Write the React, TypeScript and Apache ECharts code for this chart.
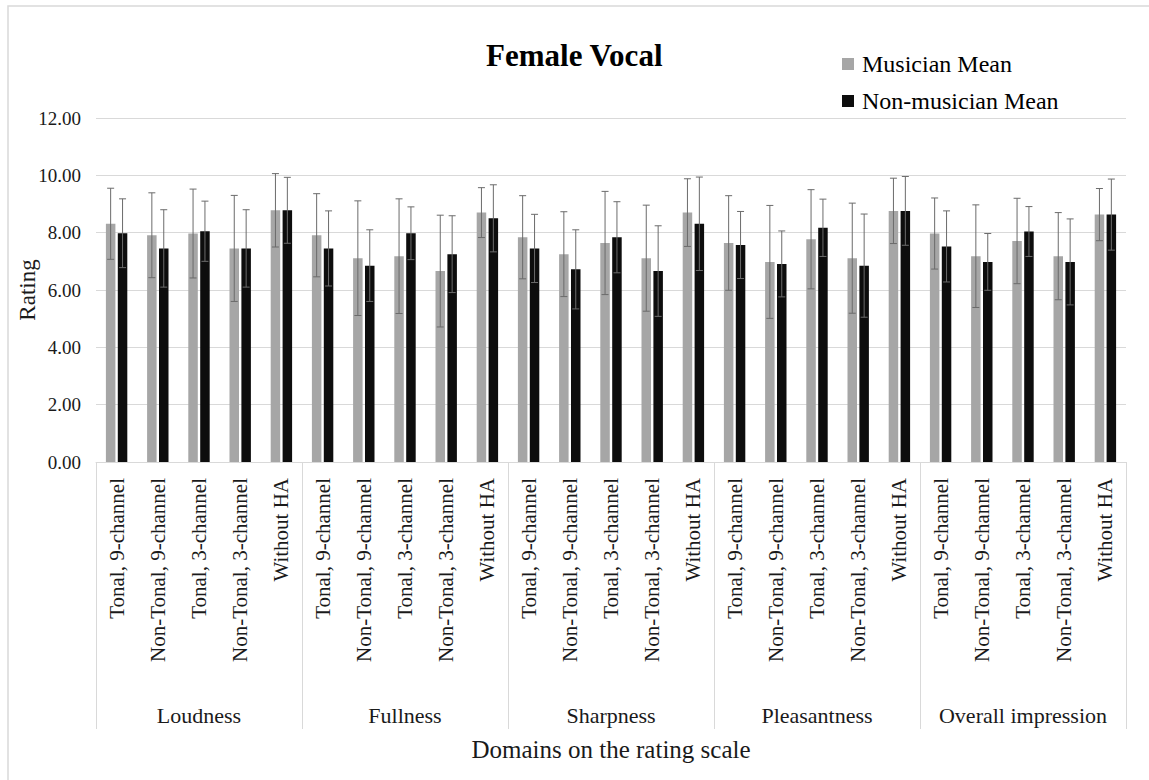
import React, { useEffect, useRef } from "react";
import * as echarts from "echarts";

// Listening conditions within each rating domain
const conditions = [
  "Tonal, 9-channel",
  "Non-Tonal, 9-channel",
  "Tonal, 3-channel",
  "Non-Tonal, 3-channel",
  "Without HA",
];
const domains = ["Loudness", "Fullness", "Sharpness", "Pleasantness", "Overall impression"];

// Mean ratings, one row per domain, in the order of `conditions`
const musicianMean = [
  [8.31, 7.91, 7.97, 7.45, 8.78],
  [7.91, 7.11, 7.18, 6.66, 8.7],
  [7.84, 7.25, 7.64, 7.11, 8.7],
  [7.64, 6.98, 7.77, 7.11, 8.76],
  [7.97, 7.18, 7.71, 7.18, 8.63],
];
const musicianSD = [
  [1.24, 1.48, 1.55, 1.85, 1.28],
  [1.45, 2.0, 2.0, 1.95, 0.87],
  [1.45, 1.48, 1.8, 1.85, 1.18],
  [1.65, 1.97, 1.73, 1.92, 1.14],
  [1.24, 1.79, 1.49, 1.52, 0.91],
];
const nonMusicianMean = [
  [7.98, 7.45, 8.05, 7.45, 8.78],
  [7.45, 6.85, 7.98, 7.25, 8.5],
  [7.45, 6.72, 7.84, 6.66, 8.31],
  [7.57, 6.91, 8.17, 6.85, 8.76],
  [7.52, 6.98, 8.04, 6.98, 8.63],
];
const nonMusicianSD = [
  [1.2, 1.35, 1.05, 1.35, 1.15],
  [1.31, 1.25, 0.92, 1.34, 1.17],
  [1.19, 1.38, 1.24, 1.58, 1.63],
  [1.17, 1.15, 1.0, 1.8, 1.2],
  [1.24, 0.99, 0.87, 1.5, 1.24],
];

const yTicks = [0, 2, 4, 6, 8, 10, 12];

const FONT = "Liberation Serif";
const GRID_COLOR = "#d9d9d9";
const TEXT_COLOR = "#1a1a1a";
const BAR_W = 9.5;
const BAR_GAP = 2.4;

export default function App() {
  const ref = useRef<HTMLDivElement>(null);

  useEffect(() => {
    if (!ref.current) return;
    const chart = echarts.init(ref.current, null, { renderer: "svg" });

    const categories: string[] = [];
    domains.forEach(() => conditions.forEach((c) => categories.push(c)));
    const flat = (rows: number[][]) => rows.flat();
    const mMean = flat(musicianMean);
    const mSD = flat(musicianSD);
    const nMean = flat(nonMusicianMean);
    const nSD = flat(nonMusicianSD);

    // Whiskers of ±1 SD, shifted onto the bar of each group
    const errorSeries = (name: string, means: number[], sds: number[], offset: number) => ({
      type: "custom",
      name,
      xAxisIndex: 0,
      yAxisIndex: 0,
      z: 5,
      silent: true,
      data: means.map((m, i) => [i, m, sds[i]]),
      renderItem: (params: any, api: any) => {
        const i = api.value(0);
        const m = api.value(1);
        const sd = api.value(2);
        const top = api.coord([i, m + sd]);
        const bot = api.coord([i, m - sd]);
        const cx = top[0] + offset;
        const cap = 3.5;
        const style = { stroke: "#6b6b6b", lineWidth: 1 };
        return {
          type: "group",
          children: [
            { type: "line", shape: { x1: cx, y1: top[1], x2: cx, y2: bot[1] }, style },
            { type: "line", shape: { x1: cx - cap, y1: top[1], x2: cx + cap, y2: top[1] }, style },
            { type: "line", shape: { x1: cx - cap, y1: bot[1], x2: cx + cap, y2: bot[1] }, style },
          ],
        };
      },
    });

    const half = (BAR_W + BAR_GAP) / 2;

    chart.setOption({
      animation: false,
      backgroundColor: "#fff",
      textStyle: { fontFamily: FONT },
      title: {
        text: "Female Vocal",
        left: 481,
        top: 35,
        textStyle: { fontFamily: FONT, fontWeight: "bold", fontSize: 31, color: "#000" },
      },
      legend: {
        orient: "vertical",
        left: 837,
        top: 47,
        itemWidth: 12,
        itemHeight: 12,
        itemGap: 13,
        icon: "rect",
        data: ["Musician Mean", "Non-musician Mean"],
        textStyle: {
          fontFamily: FONT,
          fontSize: 24,
          fontWeight: "normal",
          color: "#000",
          padding: [0, 0, 0, 3],
        },
      },
      graphic: [
        {
          type: "rect",
          shape: { x: 8, y: 6, width: 1300, height: 900 },
          style: { fill: "none", stroke: GRID_COLOR, lineWidth: 1.5 },
          silent: true,
        },
      ],
      grid: { left: 96, right: 23, top: 118, bottom: 318, containLabel: false },
      xAxis: [
        {
          type: "category",
          data: categories,
          position: "bottom",
          axisLine: { show: true, lineStyle: { color: GRID_COLOR } },
          axisTick: { show: false },
          axisLabel: {
            interval: 0,
            rotate: 90,
            margin: 16,
            fontSize: 21,
            fontFamily: FONT,
            color: TEXT_COLOR,
          },
        },
        {
          type: "category",
          data: domains,
          position: "bottom",
          axisLine: { show: false },
          axisTick: { show: true, length: 267, interval: 0, lineStyle: { color: GRID_COLOR } },
          axisLabel: {
            interval: 0,
            margin: 242,
            fontSize: 22,
            fontFamily: FONT,
            color: TEXT_COLOR,
          },
          name: "Domains on the rating scale",
          nameLocation: "middle",
          nameGap: 275,
          nameTextStyle: { fontSize: 25, fontFamily: FONT, color: TEXT_COLOR },
        },
      ],
      yAxis: {
        type: "value",
        min: yTicks[0],
        max: yTicks[yTicks.length - 1],
        interval: yTicks[1] - yTicks[0],
        axisLine: { show: false },
        axisTick: { show: false },
        splitLine: { lineStyle: { color: GRID_COLOR } },
        axisLabel: {
          margin: 15,
          fontSize: 19,
          fontFamily: FONT,
          color: TEXT_COLOR,
          formatter: (v: number) => v.toFixed(2),
        },
        name: "Rating",
        nameLocation: "middle",
        nameRotate: 90,
        nameGap: 57,
        nameMoveOverlap: false,
        nameTextStyle: { fontSize: 23, fontFamily: FONT, color: TEXT_COLOR },
      },
      series: [
        {
          name: "Musician Mean",
          type: "bar",
          xAxisIndex: 0,
          data: mMean,
          barWidth: BAR_W,
          barGap: `${(BAR_GAP / BAR_W) * 100}%`,
          itemStyle: { color: "#a6a6a6" },
        },
        {
          name: "Non-musician Mean",
          type: "bar",
          xAxisIndex: 0,
          data: nMean,
          barWidth: BAR_W,
          itemStyle: { color: "#0d0d0d" },
        },
        errorSeries("Musician SD", mMean, mSD, -half),
        errorSeries("Non-musician SD", nMean, nSD, half),
      ],
    });

    return () => chart.dispose();
  }, []);

  return (
    <div
      ref={ref}
      style={{ position: "fixed", left: 0, top: 0, width: 1149, height: 780, background: "#fff" }}
    />
  );
}
